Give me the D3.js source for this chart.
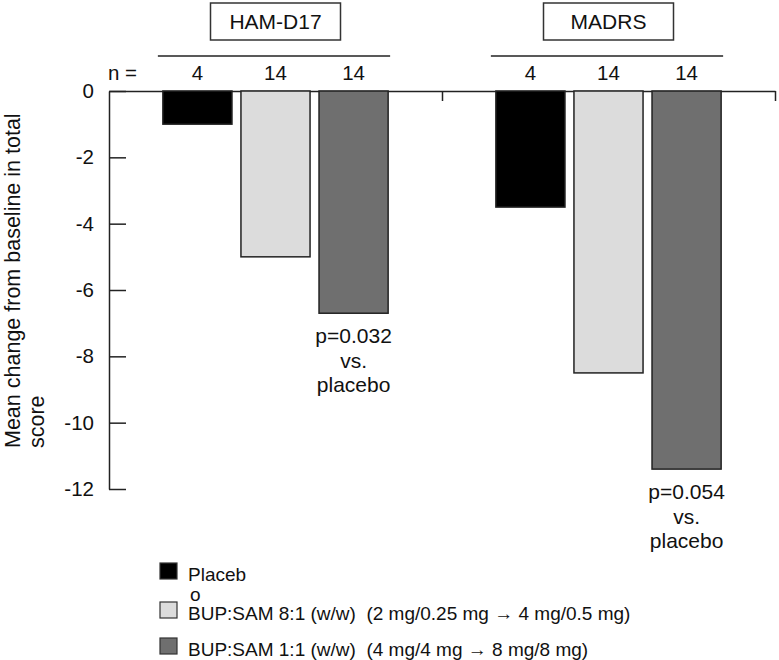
<!DOCTYPE html>
<html>
<head>
  <meta charset="utf-8">
  <title>Mean change from baseline</title>
  <style>
    body { margin: 0; background: #fff; }
    svg text { font-family: "Liberation Sans", Arial, sans-serif; fill: #111; }
    .axis .domain, .axis line { stroke: #222; stroke-width: 1.5; }
  </style>
</head>
<body>
  <svg id="chart" width="779" height="660"></svg>

  <script src="https://d3js.org/d3.v7.min.js"></script>
  <script>
    /******* Data *******/
    var groups = ["HAM-D17", "MADRS"];
    var series = ["Placebo", "BUP:SAM 8:1", "BUP:SAM 1:1"];
    var nValues = [4, 14, 14];
    var hamdValues = [-1.0, -5.0, -6.7];
    var madrsValues = [-3.5, -8.5, -11.4];
    var yTicks = [0, -2, -4, -6, -8, -10, -12];
    var legendLabels = [
      ["Placeb", "o"],
      ["BUP:SAM 8:1 (w/w)  (2 mg/0.25 mg \u2192 4 mg/0.5 mg)"],
      ["BUP:SAM 1:1 (w/w)  (4 mg/4 mg \u2192 8 mg/8 mg)"]
    ];
    var notes = [
      {group: "HAM-D17", key: "BUP:SAM 1:1", lines: ["p=0.032", "vs.", "placebo"]},
      {group: "MADRS", key: "BUP:SAM 1:1", lines: ["p=0.054", "vs.", "placebo"]}
    ];

    var colors = {"Placebo": "#000000", "BUP:SAM 8:1": "#dcdcdc", "BUP:SAM 1:1": "#6f6f6f"};

    var data = groups.map(function(g, i) {
      var vals = i === 0 ? hamdValues : madrsValues;
      return {group: g, bars: series.map(function(s, j) { return {key: s, value: vals[j], n: nValues[j]}; })};
    });

    /******* Scales *******/
    var svg = d3.select("#chart");

    var x0 = d3.scaleBand().domain(groups).range([109, 775]).padding(0);
    var x1 = d3.scaleBand().domain(series).range([0, x0.bandwidth()])
      .paddingInner(0.115).paddingOuter(0.69);
    var y = d3.scaleLinear().domain([0, -12]).range([91, 489]);
    var groupEdge = d3.scaleLinear().domain([0, groups.length]).range(x0.range());

    /******* Axes *******/
    svg.append("g")
      .attr("class", "axis")
      .attr("transform", "translate(109,0)")
      .call(d3.axisLeft(y).tickValues(yTicks).tickSizeInner(-17).tickSizeOuter(0).tickPadding(15)
        .tickFormat(function(d) { return d; }))
      .call(function(g) {
        g.selectAll("text").style("font-size", "20.5px").attr("fill", "#111");
      });

    // zero line with group separator ticks
    svg.append("g")
      .attr("class", "axis")
      .attr("transform", "translate(0," + y(0) + ")")
      .call(d3.axisBottom(groupEdge).tickValues([1, 2]).tickSizeInner(10).tickSizeOuter(0)
        .tickFormat(""));

    // y title
    svg.append("text")
      .attr("transform", "translate(20,448) rotate(-90)")
      .style("font-size", "21.5px")
      .selectAll("tspan")
      .data(["Mean change from baseline in total", "score"])
      .enter().append("tspan")
      .attr("x", 0)
      .attr("dy", function(d, i) { return i ? 24 : 0; })
      .text(function(d) { return d; });

    /******* Bars *******/
    var gGroups = svg.append("g").selectAll("g")
      .data(data)
      .enter().append("g")
      .attr("transform", function(d) { return "translate(" + x0(d.group) + ",0)"; });

    gGroups.selectAll("rect.bar")
      .data(function(d) { return d.bars; })
      .enter().append("rect")
      .attr("class", "bar")
      .attr("x", function(d) { return x1(d.key); })
      .attr("y", y(0))
      .attr("width", x1.bandwidth())
      .attr("height", function(d) { return y(d.value) - y(0); })
      .attr("fill", function(d) { return colors[d.key]; })
      .attr("stroke", "#222")
      .attr("stroke-width", 1.5);

    // n labels
    gGroups.selectAll("text.n")
      .data(function(d) { return d.bars; })
      .enter().append("text")
      .attr("class", "n")
      .attr("x", function(d) { return x1(d.key) + x1.bandwidth() / 2; })
      .attr("y", 80)
      .attr("text-anchor", "middle")
      .style("font-size", "20.5px")
      .text(function(d) { return d.n; });

    svg.append("text")
      .attr("x", 108).attr("y", 80)
      .style("font-size", "20.5px")
      .text("n =");

    // bracket lines
    gGroups.append("line")
      .attr("x1", x1(series[0]) - 5)
      .attr("x2", x1(series[2]) + x1.bandwidth() + 2)
      .attr("y1", 56).attr("y2", 56)
      .attr("stroke", "#222").attr("stroke-width", 1.5);

    // header boxes
    gGroups.append("rect")
      .attr("x", x0.bandwidth() / 2 - 65)
      .attr("y", 3)
      .attr("width", 130)
      .attr("height", 37)
      .attr("fill", "#fff")
      .attr("stroke", "#333")
      .attr("stroke-width", 1.5);

    gGroups.append("text")
      .attr("x", x0.bandwidth() / 2)
      .attr("y", 29)
      .attr("text-anchor", "middle")
      .style("font-size", "21px")
      .text(function(d) { return d.group; });

    /******* Annotations *******/
    notes.forEach(function(nt) {
      var grp = data[groups.indexOf(nt.group)];
      var bar = grp.bars.filter(function(b) { return b.key === nt.key; })[0];
      var cx = x0(nt.group) + x1(nt.key) + x1.bandwidth() / 2;
      svg.append("text")
        .attr("text-anchor", "middle")
        .style("font-size", "21px")
        .selectAll("tspan")
        .data(nt.lines)
        .enter().append("tspan")
        .attr("x", cx)
        .attr("y", function(d, i) { return y(bar.value) + 30 + i * 24.5; })
        .text(function(d) { return d; });
    });

    /******* Legend *******/
    var legendTop = [563, 602, 638];
    var legend = svg.append("g").selectAll("g")
      .data(series)
      .enter().append("g")
      .attr("transform", function(d, i) { return "translate(160," + legendTop[i] + ")"; });

    legend.append("rect")
      .attr("width", 17).attr("height", 16)
      .attr("fill", function(d) { return colors[d]; })
      .attr("stroke", "#333").attr("stroke-width", 1.2);

    legend.append("text")
      .style("font-size", "19px")
      .style("white-space", "pre")
      .selectAll("tspan")
      .data(function(d, i) { return legendLabels[i]; })
      .enter().append("tspan")
      .attr("x", function(d, i) { return i ? 30 : 28; })
      .attr("y", function(d, i) { return i ? 38 : 18; })
      .text(function(d) { return d; });
  </script>
</body>
</html>
